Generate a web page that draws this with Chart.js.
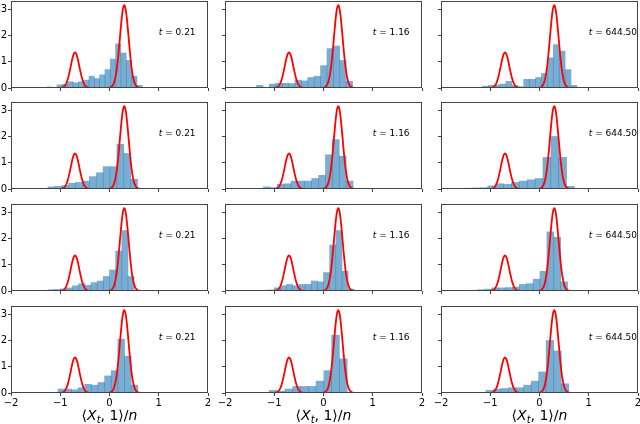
<!DOCTYPE html>
<html>
<head>
<meta charset="utf-8">
<script src="https://cdn.jsdelivr.net/npm/chart.js@4.4.0/dist/chart.umd.min.js"></script>
<style>
  body { margin: 0; width: 640px; height: 424px; background: #fff; position: relative; overflow: hidden; font-family: 'DejaVu Sans', sans-serif; }
  canvas { position: absolute; }
  .etiqueta { position: absolute; font-size: 9px; line-height: 12px; white-space: nowrap; color: #000; }
  .titulo { position: absolute; font-size: 14px; line-height: 16px; white-space: nowrap; color: #000; transform: translateX(-50%); }
  .titulo sub { font-size: 10px; vertical-align: -3px; line-height: 0; }
</style>
</head>
<body>
<script>
// Tiempos de cada columna
var tiempos = ['0.21', '1.16', '644.50'];

// Ticks de los ejes
var ticksX = [-2, -1, 0, 1, 2];
var ticksY = [0, 1, 2, 3];

// Densidad teórica (curva roja)
var curvaX = [-2, -1.0, -0.975, -0.95, -0.925, -0.9, -0.875, -0.85, -0.825, -0.8, -0.775, -0.75, -0.725, -0.7,
              -0.675, -0.65, -0.625, -0.6, -0.575, -0.55, -0.525, -0.5, -0.475, -0.45, -0.425, -0.4, -0.375,
              -0.025, 0.0, 0.025, 0.05, 0.075, 0.1, 0.125, 0.15, 0.175, 0.2, 0.225, 0.25, 0.275, 0.3,
              0.325, 0.35, 0.375, 0.4, 0.425, 0.45, 0.475, 0.5, 0.525, 0.55, 0.575, 0.6, 0.625, 2];
var curvaY = [0, 0.001, 0.011, 0.025, 0.054, 0.106, 0.19, 0.32, 0.50, 0.71, 0.94, 1.15, 1.30, 1.35,
              1.30, 1.15, 0.94, 0.71, 0.50, 0.32, 0.19, 0.106, 0.054, 0.025, 0.011, 0.004, 0.001,
              0.004, 0.010, 0.025, 0.059, 0.125, 0.245, 0.45, 0.75, 1.16, 1.67, 2.20, 2.69, 3.03, 3.15,
              3.03, 2.69, 2.20, 1.67, 1.16, 0.75, 0.45, 0.245, 0.125, 0.059, 0.025, 0.010, 0.004, 0];

// Borde izquierdo y ancho de los bins de cada histograma [fila][columna]
var inicioBins = [
    [-1.28, -1.36, -1.28],
    [-1.25, -1.22, -1.53],
    [-1.25, -1.375, -1.53],
    [-1.45, -1.573, -1.394]
];
var anchoBins = [
    [0.108, 0.13, 0.12],
    [0.14, 0.14, 0.16],
    [0.125, 0.125, 0.14],
    [0.135, 0.158, 0.153]
];

// Alturas de los histogramas
var h11 = [0.04, 0, 0.12, 0.14, 0.24, 0.20, 0.24, 0.30, 0.45, 0.36, 0.50, 0.70, 1.10, 1.68, 1.33, 1.05, 0.45, 0.10];
var h12 = [0.10, 0, 0.15, 0.18, 0.18, 0.17, 0.30, 0.27, 0.40, 0.45, 0.85, 1.50, 1.60, 1.05, 0.25];
var h13 = [0.02, 0.07, 0.10, 0.12, 0.15, 0.25, 0.10, 0.05, 0.33, 0.33, 0.40, 0.55, 1.15, 1.65, 1.40, 0.70, 0.10];
var h21 = [0.08, 0.10, 0.13, 0.22, 0.25, 0.30, 0.47, 0.62, 0.85, 0.85, 1.70, 1.35, 0.37];
var h22 = [0.08, 0.05, 0.18, 0.20, 0.30, 0.30, 0.30, 0.40, 0.52, 1.30, 1.88, 1.25, 0.30, 0.02];
var h23 = [0.03, 0.04, 0.05, 0.12, 0.20, 0.18, 0.25, 0.30, 0.35, 0.40, 1.20, 2.00, 1.20, 0.10];
var h31 = [0.05, 0.06, 0.08, 0.12, 0.20, 0.28, 0.22, 0.32, 0.38, 0.55, 0.80, 1.52, 2.30, 0.55];
var h32 = [0.02, 0.03, 0.04, 0.12, 0.20, 0.25, 0.20, 0.25, 0.25, 0.38, 0.35, 0.70, 1.75, 2.30, 0.75, 0.07];
var h33 = [0.02, 0.03, 0.05, 0.07, 0.12, 0.12, 0.13, 0.15, 0.25, 0.28, 0.45, 0.75, 2.25, 2.05, 0.35];
var h41 = [0.02, 0.01, 0.02, 0.15, 0.15, 0.12, 0.20, 0.33, 0.30, 0.40, 0.65, 0.85, 2.05, 1.40, 0.30];
var h42 = [0.01, 0.02, 0, 0.10, 0.07, 0.15, 0.25, 0.25, 0.25, 0.45, 0.85, 2.20, 1.30];
var h43 = [0.02, 0, 0.10, 0.15, 0.17, 0.20, 0.20, 0.30, 0.45, 0.80, 2.00, 1.60, 0.35];

var alturas = [[h11, h12, h13], [h21, h22, h23], [h31, h32, h33], [h41, h42, h43]];

// Geometría de la cuadrícula (px)
var izqColumna = [11, 225, 441];
var arribaFila = [1, 102, 204, 306];
var anchoPanel = 197;
var altoPanel = 87;
var ejeY = 22, margenArriba = 6, margenDerecha = 6;

Chart.defaults.font.family = "'DejaVu Sans', sans-serif";
Chart.defaults.font.size = 10;
Chart.defaults.color = '#000';

// Plugin para dibujar el marco completo de cada panel
var marco = {
    id: 'marco',
    afterDraw: function (chart) {
        var a = chart.chartArea, ctx = chart.ctx;
        ctx.save();
        ctx.strokeStyle = '#444';
        ctx.lineWidth = 1;
        ctx.strokeRect(Math.round(a.left) + 0.5, Math.round(a.top) + 0.5,
                       Math.round(a.right - a.left) - 1, Math.round(a.bottom - a.top) - 1);
        ctx.restore();
    }
};

function menos(v) {
    return v < 0 ? '\u2212' + Math.abs(v) : '' + v;
}

function crearPanel(fila, col) {
    var ultimaFila = fila === 3;
    var altoEjeX = ultimaFila ? 16 : 8;

    var canvas = document.createElement('canvas');
    var ancho = ejeY + anchoPanel + margenDerecha;
    var alto = margenArriba + altoPanel + altoEjeX;
    canvas.width = ancho;
    canvas.height = alto;
    canvas.style.width = ancho + 'px';
    canvas.style.height = alto + 'px';
    canvas.style.left = (izqColumna[col] - ejeY) + 'px';
    canvas.style.top = (arribaFila[fila] - margenArriba) + 'px';
    document.body.appendChild(canvas);

    // Barras del histograma a partir de los bins
    var inicio = inicioBins[fila][col], w = anchoBins[fila][col];
    var barras = alturas[fila][col].map(function (h, i) {
        return { x: inicio + (i + 0.5) * w, y: h };
    });
    var curva = curvaX.map(function (x, i) { return { x: x, y: curvaY[i] }; });

    new Chart(canvas.getContext('2d'), {
        type: 'bar',
        data: {
            datasets: [{
                type: 'line',
                data: curva,
                borderColor: '#ff0000',
                borderWidth: 1.8,
                pointRadius: 0,
                cubicInterpolationMode: 'monotone',
                fill: false,
                order: 1
            }, {
                type: 'bar',
                data: barras,
                backgroundColor: 'rgba(31, 119, 180, 0.6)',
                borderWidth: 0,
                barPercentage: 1,
                categoryPercentage: 1,
                order: 2
            }]
        },
        options: {
            responsive: false,
            animation: false,
            events: [],
            layout: { padding: { top: margenArriba, right: margenDerecha, bottom: 0, left: 0 } },
            plugins: { legend: { display: false }, tooltip: { enabled: false } },
            scales: {
                x: {
                    type: 'linear',
                    min: -2,
                    max: 2,
                    offset: false,
                    afterBuildTicks: function (s) { s.ticks = ticksX.map(function (v) { return { value: v }; }); },
                    afterFit: function (s) { s.height = altoEjeX; s.paddingLeft = 0; s.paddingRight = 0; },
                    border: { display: false },
                    grid: { drawOnChartArea: false, drawTicks: true, tickLength: 3, tickColor: '#444', offset: false },
                    ticks: { display: ultimaFila, padding: 1, maxRotation: 0, autoSkip: false,
                             callback: function (v) { return menos(v); } }
                },
                y: {
                    min: 0,
                    max: 3.31,
                    afterBuildTicks: function (s) { s.ticks = ticksY.map(function (v) { return { value: v }; }); },
                    afterFit: function (s) { s.width = ejeY; s.paddingTop = 0; s.paddingBottom = 0; },
                    border: { display: false },
                    grid: { drawOnChartArea: false, drawTicks: true, tickLength: 3, tickColor: '#444' },
                    ticks: { display: col === 0, padding: 1, callback: function (v) { return menos(v); } }
                }
            }
        },
        plugins: [marco]
    });

    // Etiqueta del tiempo
    var et = document.createElement('div');
    et.className = 'etiqueta';
    et.innerHTML = '<i>t</i> = ' + tiempos[col];
    et.style.left = (izqColumna[col] + 0.75 * anchoPanel) + 'px';
    et.style.top = (arribaFila[fila] + 25) + 'px';
    document.body.appendChild(et);
}

for (var f = 0; f < 4; f++) {
    for (var c = 0; c < 3; c++) {
        crearPanel(f, c);
    }
}

// Títulos del eje x
for (var c2 = 0; c2 < 3; c2++) {
    var t = document.createElement('div');
    t.className = 'titulo';
    t.innerHTML = '\u27E8<i>X</i><sub><i>t</i></sub>, 1\u27E9/<i>n</i>';
    t.style.left = (izqColumna[c2] + anchoPanel / 2) + 'px';
    t.style.top = '407px';
    document.body.appendChild(t);
}
</script>
</body>
</html>
